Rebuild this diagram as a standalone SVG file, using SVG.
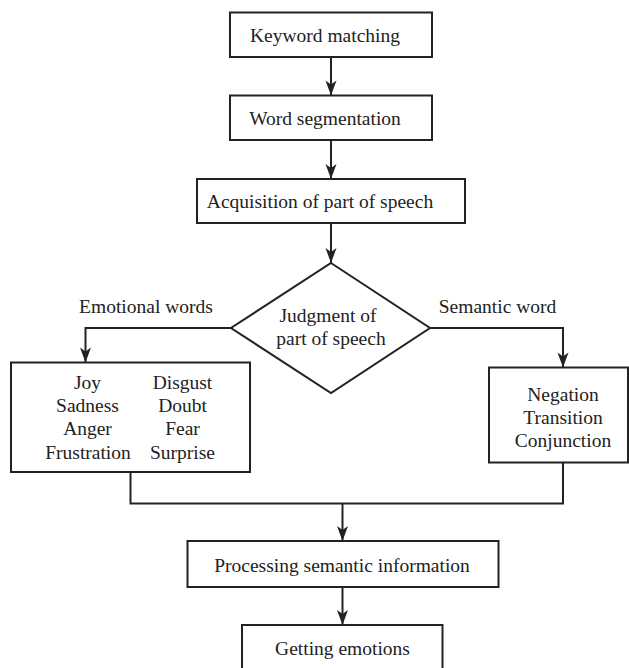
<svg xmlns="http://www.w3.org/2000/svg" width="629" height="668" viewBox="0 0 629 668">
<style>
.box{fill:#fff;stroke:#222;stroke-width:2}
.ln{fill:none;stroke:#222;stroke-width:2}
.t{font-family:"Liberation Serif","Times New Roman",serif;font-size:19.5px;fill:#222;text-anchor:middle}
</style>
<defs>
<marker id="ah" markerUnits="userSpaceOnUse" viewBox="-16 -7 17 14" refX="0" refY="0" markerWidth="17" markerHeight="14" orient="auto">
<path d="M0,0 L-15,-5.5 L-11,0 L-15,5.5 Z" fill="#222"/>
</marker>
</defs>
<rect width="629" height="668" fill="#fff"/>
<g id="connectors">
<path class="ln" d="M331,57 V95.5" marker-end="url(#ah)"/>
<path class="ln" d="M331,140 V179" marker-end="url(#ah)"/>
<path class="ln" d="M331,223 V263" marker-end="url(#ah)"/>
<path class="ln" d="M231,328 H85.5 V362.5" marker-end="url(#ah)"/>
<path class="ln" d="M430,328 H563 V367.5" marker-end="url(#ah)"/>
<path class="ln" d="M130.5,472 V503.5 H563 V462.5"/>
<path class="ln" d="M342.5,503.5 V541" marker-end="url(#ah)"/>
<path class="ln" d="M342.5,587 V625" marker-end="url(#ah)"/>
<text class="t" x="146" y="313">Emotional words</text>
<text class="t" x="497.5" y="313">Semantic word</text>
</g>
<g id="keyword">
<rect class="box" x="230" y="12.5" width="202" height="44.5"/>
<text class="t" x="325" y="42">Keyword matching</text>
</g>
<g id="segmentation">
<rect class="box" x="230" y="95.5" width="202" height="44.5"/>
<text class="t" x="325" y="125">Word segmentation</text>
</g>
<g id="acquisition">
<rect class="box" x="197" y="179" width="268" height="44"/>
<text class="t" x="320" y="208">Acquisition of part of speech</text>
</g>
<g id="judgment">
<polygon class="box" points="331,263 430,328 331,393 231,328"/>
<text class="t" x="328" y="322">Judgment of</text>
<text class="t" x="331" y="345">part of speech</text>
</g>
<g id="emotions-list">
<rect class="box" x="11" y="362.5" width="239" height="109.5"/>
<text class="t" x="87.5" y="388.5">Joy</text>
<text class="t" x="87.5" y="412">Sadness</text>
<text class="t" x="87.5" y="435">Anger</text>
<text class="t" x="88" y="458.5">Frustration</text>
<text class="t" x="182.5" y="388.5">Disgust</text>
<text class="t" x="182.5" y="412">Doubt</text>
<text class="t" x="182.5" y="435">Fear</text>
<text class="t" x="182.5" y="458.5">Surprise</text>
</g>
<g id="semantic-list">
<rect class="box" x="489" y="367.5" width="139" height="95"/>
<text class="t" x="563" y="400.5">Negation</text>
<text class="t" x="563" y="424">Transition</text>
<text class="t" x="563" y="447">Conjunction</text>
</g>
<g id="processing">
<rect class="box" x="187.5" y="541" width="311" height="46"/>
<text class="t" x="342" y="571.5">Processing semantic information</text>
</g>
<g id="getting">
<rect class="box" x="242" y="625" width="200.5" height="50"/>
<text class="t" x="342.5" y="655">Getting emotions</text>
</g>
</svg>
